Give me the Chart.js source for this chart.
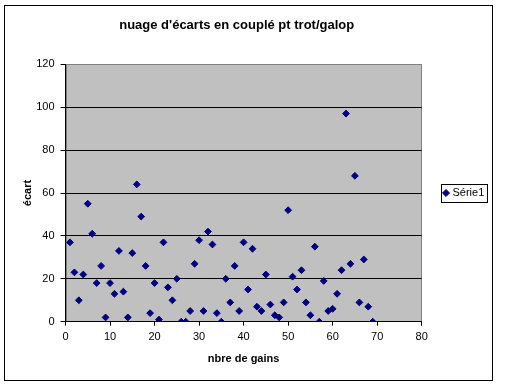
<!DOCTYPE html>
<html>
<head>
<meta charset="utf-8">
<title>nuage d'écarts</title>
<script src="https://cdn.jsdelivr.net/npm/chart.js@4.4.1/dist/chart.umd.min.js"></script>
<style>
  body { margin: 0; background: #fff; }
  #cadre { position: absolute; left: 4px; top: 5px; width: 487px; height: 374px; border: 1px solid #000; }
  #zone { position: absolute; left: 0; top: 0; }
</style>
</head>
<body>
<div id="cadre"></div>
<div id="zone"><canvas id="nuage" width="512" height="387"></canvas></div>
<script>
// donnees
const titre = "nuage d'écarts en couplé pt trot/galop";
const nomSerie = 'Série1';
const gains = [1, 2, 3, 4, 5, 6, 7, 8, 9, 10, 11, 12, 13, 14, 15, 16, 17, 18, 19, 20,
  21, 22, 23, 24, 25, 26, 27, 28, 29, 30, 31, 32, 33, 34, 35, 36, 37, 38, 39, 40,
  41, 42, 43, 44, 45, 46, 47, 48, 49, 50, 51, 52, 53, 54, 55, 56, 57, 58, 59, 60,
  61, 62, 63, 64, 65, 66, 67, 68, 69];
const ecarts = [37, 23, 10, 22, 55, 41, 18, 26, 2, 18, 13, 33, 14, 2, 32, 64, 49, 26, 4, 18,
  1, 37, 16, 10, 20, 0, 0, 5, 27, 38, 5, 42, 36, 4, 0, 20, 9, 26, 5, 37,
  15, 34, 7, 5, 22, 8, 3, 2, 9, 52, 21, 15, 24, 9, 3, 35, 0, 19, 5, 6,
  13, 24, 97, 27, 68, 9, 29, 7, 0];
const ticksX = [0, 10, 20, 30, 40, 50, 60, 70, 80];
const ticksY = [0, 20, 40, 60, 80, 100, 120];

const points = [];
for (let i = 0; i < gains.length; i++) {
  points.push({ x: gains[i], y: ecarts[i] });
}

Chart.defaults.font.family = "'Liberation Sans', Arial, sans-serif";
Chart.defaults.font.size = 11;
Chart.defaults.color = '#000';

// fond gris de la zone de traçage
const fondGris = {
  id: 'fondGris',
  beforeDraw(chart) {
    const { ctx, chartArea: a } = chart;
    ctx.save();
    ctx.fillStyle = '#c0c0c0';
    ctx.fillRect(a.left, a.top, a.width, a.height);
    ctx.strokeStyle = '#808080';
    ctx.lineWidth = 1;
    ctx.strokeRect(Math.round(a.left) + 0.5, Math.round(a.top) + 0.5, Math.round(a.width) - 1, Math.round(a.height));
    ctx.restore();
  }
};

// titre + cadre de la legende
const titreEtLegende = {
  id: 'titreEtLegende',
  afterDraw(chart) {
    const ctx = chart.ctx;
    ctx.save();
    ctx.fillStyle = '#000';
    ctx.font = "bold 13px 'Liberation Sans', Arial, sans-serif";
    ctx.textAlign = 'center';
    ctx.textBaseline = 'middle';
    ctx.fillText(titre, 236.7, 25.7);
    const hb = chart.legend.legendHitBoxes[0];
    if (hb) {
      ctx.strokeStyle = '#000';
      ctx.lineWidth = 1;
      ctx.strokeRect(Math.round(hb.left - 4) + 0.5, Math.round(hb.top - 4) + 0.5,
        Math.round(hb.width + 7), Math.round(hb.height + 7));
    }
    ctx.restore();
  }
};

new Chart(document.getElementById('nuage'), {
  type: 'scatter',
  data: {
    datasets: [{
      label: nomSerie,
      data: points,
      pointStyle: 'rectRot',
      pointRadius: 3.4,
      pointHoverRadius: 3.4,
      borderWidth: 1,
      backgroundColor: '#000080',
      borderColor: '#000080'
    }]
  },
  options: {
    responsive: false,
    animation: false,
    layout: { padding: { left: 4, top: 64.3, right: 20.3, bottom: 21.9 } },
    plugins: {
      title: { display: false },
      tooltip: { enabled: false },
      legend: {
        position: 'right',
        fullSize: false,
        maxWidth: 70,
        labels: {
          usePointStyle: true,
          boxWidth: 2,
          boxHeight: 5,
          padding: 23.3,
          color: '#000',
          font: { size: 11 }
        }
      }
    },
    scales: {
      x: {
        type: 'linear',
        min: 0,
        max: 80,
        afterBuildTicks: s => { s.ticks = ticksX.map(v => ({ value: v })); },
        ticks: { padding: 5, color: '#000' },
        grid: { drawOnChartArea: false, tickLength: 4, color: '#000' },
        border: { color: '#000' },
        title: {
          display: true,
          text: 'nbre de gains',
          font: { weight: 'bold', size: 11 },
          padding: { top: 0, bottom: 0 }
        },
        afterFit: s => { s.height = 43.4; }
      },
      y: {
        min: 0,
        max: 120,
        afterBuildTicks: s => { s.ticks = ticksY.map(v => ({ value: v })); },
        ticks: { padding: 6, color: '#000' },
        grid: {
          color: c => (c.tick && c.tick.value === 120 ? '#808080' : '#000'),
          tickColor: '#000',
          tickLength: 5
        },
        border: { color: '#000' },
        title: {
          display: true,
          text: 'écart',
          font: { weight: 'bold', size: 11 },
          padding: { top: 17, bottom: 0 }
        },
        afterFit: s => { s.width = 61.5; }
      }
    }
  },
  plugins: [fondGris, titreEtLegende]
});
</script>
</body>
</html>
